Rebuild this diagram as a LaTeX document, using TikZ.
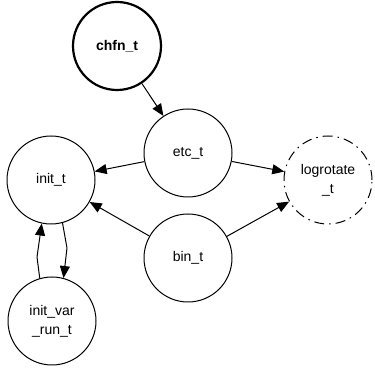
\documentclass[tikz,border=0pt]{standalone}
\usepackage{fontspec}
\setmainfont{Liberation Sans}
\usetikzlibrary{arrows.meta}
\begin{document}
\begin{tikzpicture}[x=1pt,y=1pt,line join=round,
		font=\fontsize{14}{19}\selectfont,>={Triangle[length=12pt,width=10pt]},
		typ/.style={draw,circle,line width=1pt,minimum size=88pt,inner sep=0pt,align=center},
		edge/.style={->,line width=1pt}]
	\useasboundingbox (0,0) rectangle (375,-371);
	\node[typ,line width=2.2pt,font=\fontsize{14}{19}\selectfont\bfseries] (chfn) at (117,-46) {chfn\_t};
	\node[typ] (etc) at (188,-153) {etc\_t};
	\node[typ] (init) at (51,-180) {init\_t};
	\node[typ,dash pattern=on 10pt off 5pt on 1.5pt off 5pt] (logrotate) at (328,-180) {logrotate\\\_t};
	\node[typ] (bin) at (188,-258) {bin\_t};
	\node[typ] (initvar) at (52,-321) {init\_var\\\_run\_t};
	\coordinate (down) at (67,-248);
	\coordinate (up) at (37,-257);
	\draw[edge] (chfn) -- (etc);
	\draw[edge] (etc) -- (init);
	\draw[edge] (etc) -- (logrotate);
	\draw[edge] (bin) -- (init);
	\draw[edge] (bin) -- (logrotate);
	\draw[edge] (init.-75) -- (down) -- (initvar.75);
	\draw[edge] (initvar.106) -- (up) -- (init.-102);
\end{tikzpicture}
\end{document}
